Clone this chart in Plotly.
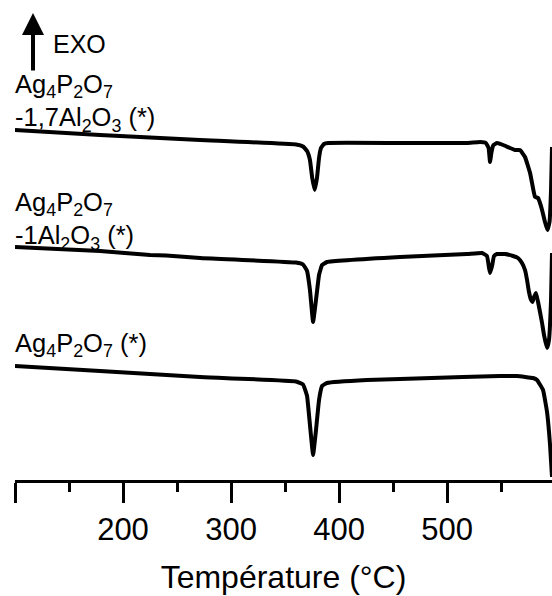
import plotly.graph_objects as go

# DSC traces, heat flow in arbitrary units (exothermic up), vertically stacked
temp_al17 = [100, 178.7, 271.3, 360.2, 366.7, 370.4, 373.1, 375.2, 377.5, 379.6,
             381.5, 383.3, 386.1, 390.0, 456.5, 518.5, 530.6, 536.0, 538.5, 539.8,
             541.2, 543.0, 546.3, 552.0, 558.3, 563.0, 567.6, 572.2, 576.9, 579.6,
             581.5, 584.3, 586.1, 588.0, 590.7, 593.0, 594.9, 596.3, 597.2]
flow_al17 = [3.50, 3.45, 3.40, 3.355, 3.335, 3.29, 3.20, 3.02, 2.90, 3.02,
             3.22, 3.32, 3.36, 3.37, 3.37, 3.37, 3.38, 3.37, 3.32, 3.18,
             3.28, 3.35, 3.37, 3.35, 3.32, 3.30, 3.30, 3.23, 3.07, 2.92,
             2.83, 2.82, 2.77, 2.70, 2.58, 2.50, 2.58, 2.90, 3.33]

temp_al1 = [100, 178.7, 225.0, 240.0, 271.3, 360.2, 366.7, 370.4, 373.1, 376.0,
            378.7, 381.5, 384.3, 388.9, 456.5, 518.5, 532.4, 537.0, 538.9, 539.8,
            541.7, 543.5, 546.3, 553.7, 561.1, 565.7, 569.4, 572.2, 574.1, 575.9,
            577.8, 579.2, 580.6, 582.4, 584.3, 586.1, 588.0, 589.8, 592.6, 594.4,
            596.3, 597.2]
flow_al1 = [2.33, 2.29, 2.25, 2.245, 2.22, 2.175, 2.155, 2.09, 1.90, 1.58,
            1.80, 2.05, 2.15, 2.18, 2.23, 2.26, 2.27, 2.24, 2.12, 2.07,
            2.14, 2.24, 2.26, 2.26, 2.24, 2.22, 2.17, 2.10, 2.00, 1.88,
            1.80, 1.78, 1.83, 1.87, 1.78, 1.68, 1.57, 1.45, 1.32, 1.40,
            1.80, 2.27]

temp_pure = [100, 178.7, 271.3, 360.2, 366.7, 370.4, 373.1, 376.0, 378.7, 381.5,
             384.3, 388.9, 425.9, 456.5, 514.8, 549.1, 564.8, 579.6, 583.3, 588.9,
             592.6, 595.4, 597.2]
flow_pure = [1.14, 1.09, 1.03, 0.985, 0.955, 0.84, 0.55, 0.25, 0.50, 0.80,
             0.94, 0.97, 1.00, 1.01, 1.03, 1.04, 1.04, 1.02, 1.00, 0.90,
             0.68, 0.35, 0.03]

sample_labels = [
    "Ag<sub>4</sub>P<sub>2</sub>O<sub>7</sub><br>-1,7Al<sub>2</sub>O<sub>3</sub> (*)",
    "Ag<sub>4</sub>P<sub>2</sub>O<sub>7</sub><br>-1Al<sub>2</sub>O<sub>3</sub> (*)",
    "Ag<sub>4</sub>P<sub>2</sub>O<sub>7</sub> (*)",
]

tick_vals = [100, 200, 300, 400, 500]
tick_text = ["", "200", "300", "400", "500"]
minor_vals = [150, 250, 350, 450, 550]

FONT = "Arial, Liberation Sans, sans-serif"
PLOT_H = 480  # plot-area height in px (used to place labels)

fig = go.Figure()
for t, f in [(temp_al17, flow_al17), (temp_al1, flow_al1), (temp_pure, flow_pure)]:
    fig.add_trace(go.Scatter(x=t, y=f, mode="lines",
                             line=dict(color="black", width=4, shape="spline", smoothing=0.3),
                             showlegend=False, hoverinfo="skip"))

def py(px):
    return 1 - px / PLOT_H

# sample names, top-left of each trace
for label, top in zip(sample_labels, [68, 186, 327]):
    fig.add_annotation(text=label, x=0, y=py(top), xref="paper", yref="paper",
                       xanchor="left", yanchor="top", align="left", showarrow=False,
                       xshift=-2, font=dict(family=FONT, size=25.5, color="black"))

# exotherm direction marker
fig.add_annotation(text="", x=(33 - 15) / 537, y=py(13), xref="paper", yref="paper",
                   ax=0, ay=59, axref="pixel", ayref="pixel", showarrow=True,
                   arrowhead=2, arrowsize=1.1, arrowwidth=4, arrowcolor="black", standoff=0)
fig.add_annotation(text="EXO", x=(53 - 15) / 537, y=py(28), xref="paper", yref="paper",
                   xanchor="left", yanchor="top", showarrow=False, xshift=-2,
                   font=dict(family=FONT, size=25, color="black"))

fig.update_layout(
    width=552, height=596,
    margin=dict(l=15, r=0, t=0, b=116),
    paper_bgcolor="white", plot_bgcolor="white",
    font=dict(family=FONT, color="black"),
    xaxis=dict(range=[100, 597.2], showgrid=False, zeroline=False,
               showline=True, linecolor="black", linewidth=3,
               ticks="outside", ticklen=20, tickwidth=3, tickcolor="black",
               tickvals=tick_vals, ticktext=tick_text,
               tickfont=dict(family=FONT, size=31, color="black"),
               minor=dict(tickvals=minor_vals, ticks="outside", ticklen=9,
                          tickwidth=3, tickcolor="black"),
               title=dict(text="Température (°C)",
                          font=dict(family=FONT, size=32, color="black"),
                          standoff=20)),
    yaxis=dict(range=[0, 4.8], visible=False, fixedrange=True),
)

fig.write_html("out.html")
